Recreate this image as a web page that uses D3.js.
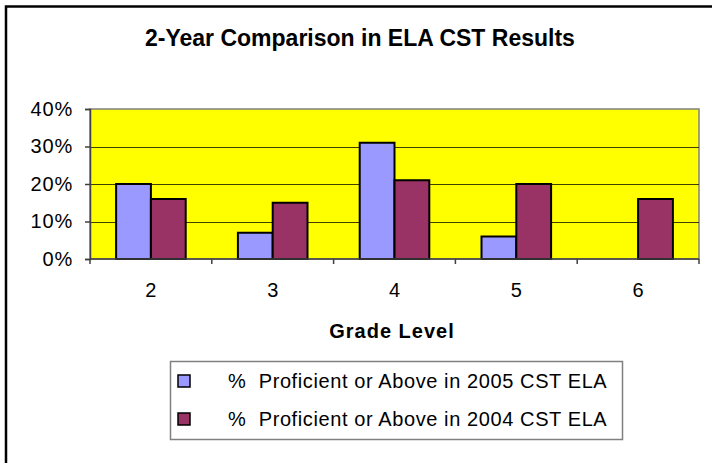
<!DOCTYPE html>
<html>
<head>
<meta charset="utf-8">
<script src="https://cdn.jsdelivr.net/npm/d3@7"></script>
<style>
  body { margin: 0; background: #fff; }
  svg { display: block; font-family: "Liberation Sans", Arial, sans-serif; }
</style>
</head>
<body>
<svg id="chart" width="712" height="463"></svg>
<script>
// chart data
var grades = ["2", "3", "4", "5", "6"];
var series2005 = [0.20, 0.07, 0.31, 0.06, 0];
var series2004 = [0.16, 0.15, 0.21, 0.20, 0.16];
var seriesNames = ["%  Proficient or Above in 2005 CST ELA",
                   "%  Proficient or Above in 2004 CST ELA"];
var seriesColors = ["#9999FF", "#993366"];
var yTicks = [0, 0.1, 0.2, 0.3, 0.4];

var svg = d3.select("#chart");

var plot = {left: 90, top: 109, right: 699, bottom: 259};

// outer chart frame (runs off the right and bottom edges)
svg.append("rect")
    .attr("x", 6).attr("y", 6.5)
    .attr("width", 730).attr("height", 480)
    .attr("fill", "#fff")
    .attr("stroke", "#000")
    .attr("stroke-width", 2.5);

svg.append("text")
    .attr("x", 145).attr("y", 46)
    .attr("font-size", 23)
    .attr("font-weight", "bold")
    .text("2-Year Comparison in ELA CST Results");

var x = d3.scaleBand()
    .domain(grades)
    .range([plot.left, plot.right]);

var x1 = d3.scaleBand()
    .domain([0, 1])
    .range([0, x.bandwidth()])
    .paddingOuter(0.75)
    .paddingInner(0);

var y = d3.scaleLinear()
    .domain([0, 0.4])
    .range([plot.bottom, plot.top]);

// plot area
svg.append("rect")
    .attr("x", plot.left).attr("y", plot.top)
    .attr("width", plot.right - plot.left)
    .attr("height", plot.bottom - plot.top)
    .attr("fill", "#FFFF00")
    .attr("stroke", "#808080")
    .attr("stroke-width", 1.5);

// gridlines
svg.append("g")
  .selectAll("line")
    .data(yTicks.slice(1, -1))
  .enter().append("line")
    .attr("x1", plot.left).attr("x2", plot.right)
    .attr("y1", function(d) { return Math.round(y(d)) + 0.5; })
    .attr("y2", function(d) { return Math.round(y(d)) + 0.5; })
    .attr("stroke", "#000")
    .attr("stroke-opacity", 0.75)
    .attr("stroke-width", 1);

// bars
var data = grades.map(function(g, i) {
  return {grade: g, values: [series2005[i], series2004[i]]};
});

var groups = svg.append("g")
  .selectAll("g")
    .data(data)
  .enter().append("g")
    .attr("transform", function(d) { return "translate(" + x(d.grade) + ",0)"; });

groups.selectAll("rect")
    .data(function(d) { return d.values.map(function(v, k) { return {k: k, v: v}; }); })
  .enter().filter(function(d) { return d.v > 0; }).append("rect")
    .attr("x", function(d) { return x1(d.k); })
    .attr("y", function(d) { return y(d.v); })
    .attr("width", x1.bandwidth())
    .attr("height", function(d) { return y(0) - y(d.v); })
    .attr("fill", function(d) { return seriesColors[d.k]; })
    .attr("stroke", "#000")
    .attr("stroke-width", 2);

// y axis
var yAxis = svg.append("g")
    .attr("transform", "translate(" + plot.left + ",0)")
    .call(d3.axisLeft(y).tickValues(yTicks).tickFormat(d3.format(".0%")).tickSize(5).tickPadding(12));
yAxis.select(".domain").attr("stroke", "#404040").attr("stroke-width", 1.5);
yAxis.selectAll(".tick line").attr("stroke", "#404040").attr("stroke-width", 1.5);
yAxis.selectAll("text").attr("font-size", 20).attr("fill", "#000")
    .attr("letter-spacing", 0.8)
    .attr("font-family", "Liberation Sans, Arial, sans-serif");

// x axis: ticks at category boundaries
var xAxis = svg.append("g")
    .attr("transform", "translate(0," + plot.bottom + ")");
xAxis.append("line")
    .attr("x1", plot.left).attr("x2", plot.right)
    .attr("stroke", "#404040").attr("stroke-width", 1.5);
xAxis.selectAll(".bound")
    .data(grades.concat(["end"]))
  .enter().append("line")
    .attr("class", "bound")
    .attr("x1", function(d, i) { return plot.left + i * x.step(); })
    .attr("x2", function(d, i) { return plot.left + i * x.step(); })
    .attr("y1", 0).attr("y2", 5)
    .attr("stroke", "#404040").attr("stroke-width", 1.5);
xAxis.selectAll(".lbl")
    .data(grades)
  .enter().append("text")
    .attr("class", "lbl")
    .attr("x", function(d) { return x(d) + x.bandwidth() / 2; })
    .attr("y", 37.5)
    .attr("text-anchor", "middle")
    .attr("font-size", 20)
    .text(function(d) { return d; });

svg.append("text")
    .attr("x", 392)
    .attr("y", 338)
    .attr("text-anchor", "middle")
    .attr("font-size", 20)
    .attr("font-weight", "bold")
    .attr("letter-spacing", 1)
    .text("Grade Level");

// legend
var legend = svg.append("g");
legend.append("rect")
    .attr("x", 170.5).attr("y", 361.5)
    .attr("width", 452).attr("height", 78)
    .attr("fill", "#fff")
    .attr("stroke", "#808080")
    .attr("stroke-width", 1.5);

var item = legend.selectAll(".item")
    .data(seriesNames)
  .enter().append("g")
    .attr("class", "item")
    .attr("transform", function(d, i) { return "translate(0," + (381 + i * 38) + ")"; });
item.append("rect")
    .attr("x", 178).attr("y", -6)
    .attr("width", 12).attr("height", 12)
    .attr("fill", function(d, i) { return seriesColors[i]; })
    .attr("stroke", "#000").attr("stroke-width", 1.5);
item.append("text")
    .attr("x", 228).attr("y", 7)
    .attr("font-size", 20)
    .attr("letter-spacing", 0.6)
    .attr("xml:space", "preserve")
    .style("white-space", "pre")
    .text(function(d) { return d; });
</script>
</body>
</html>
